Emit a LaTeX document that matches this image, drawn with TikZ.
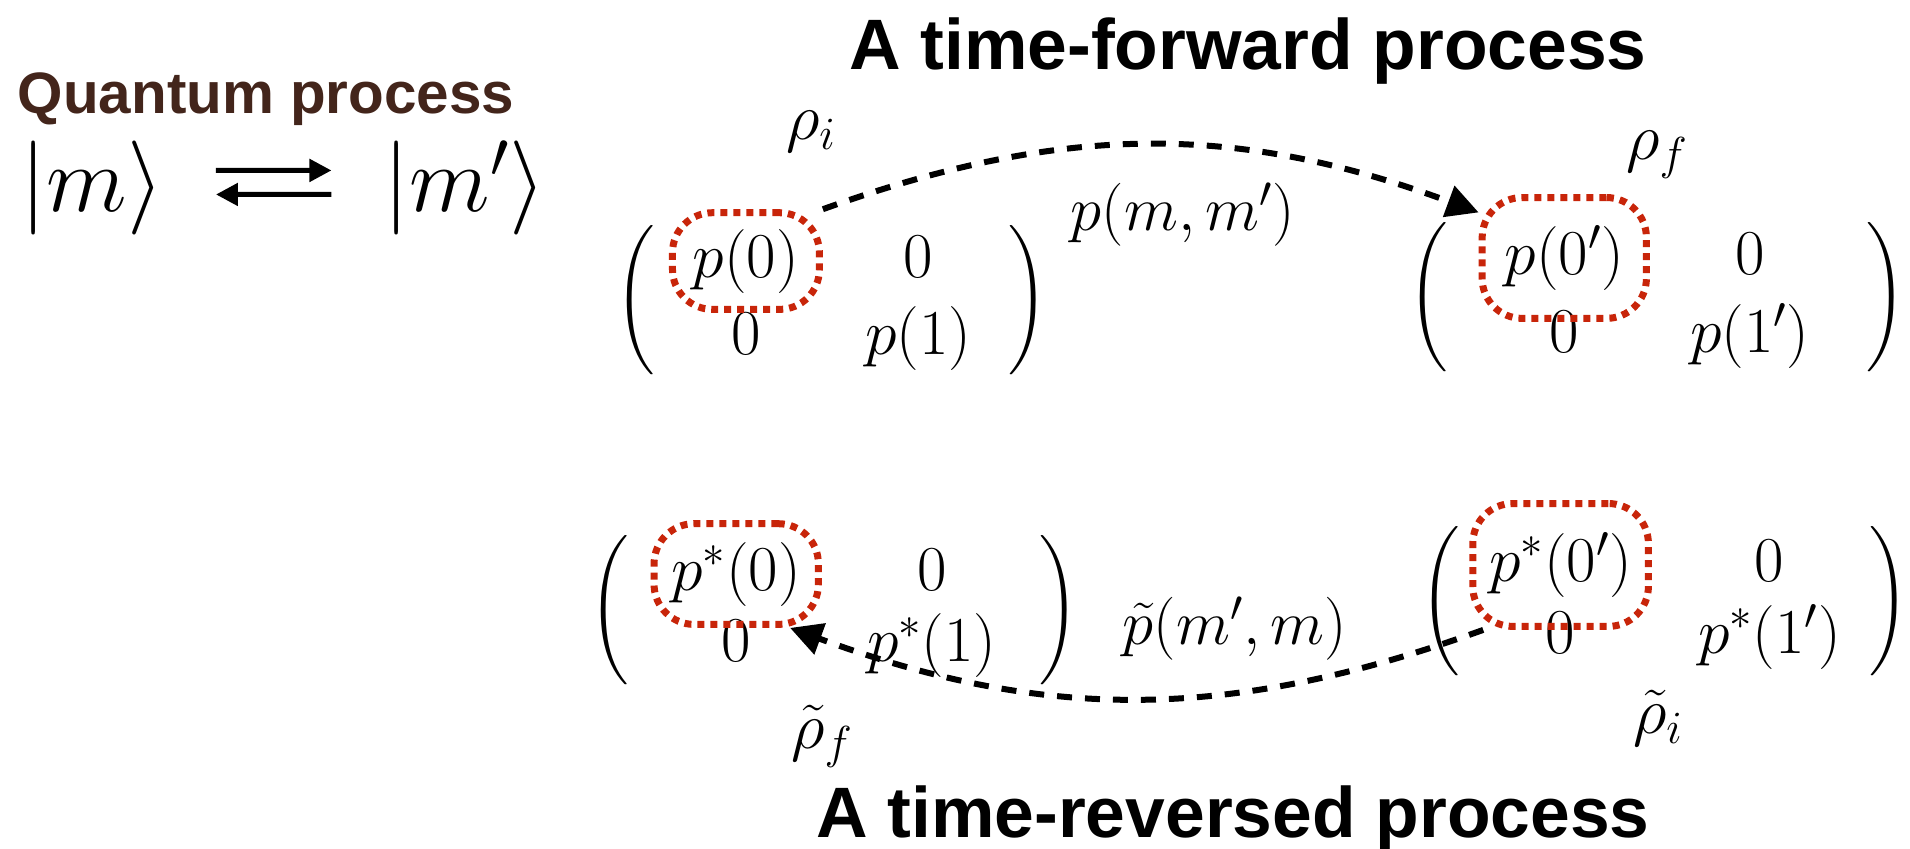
\RequirePackage{fix-cm}
\documentclass[tikz,border=0pt]{standalone}
\usepackage{exscale}
\usepackage{fontspec}
\newfontfamily\headfont{Liberation Sans}
\usetikzlibrary{matrix,fit,arrows.meta}
\definecolor{procbrown}{HTML}{43251B}
\definecolor{boxred}{HTML}{C8250A}

\begin{document}
\begin{tikzpicture}[
x=0.5pt,y=0.5pt,
heading/.style={
font=\headfont\bfseries\fontsize{35.7}{40}\selectfont,
anchor=base,inner sep=0pt
},
sym/.style={font=\fontsize{31.5}{36}\selectfont,inner sep=0pt},
ket/.style={font=\fontsize{47}{54}\selectfont,anchor=base,inner sep=0pt},
dens/.style={
matrix of math nodes,
nodes={inner sep=1pt,anchor=base,font=\fontsize{32}{38}\selectfont},
column sep=31pt,row sep=5pt,
inner xsep=19pt,inner ysep=3pt,
left delimiter=(,right delimiter=)
},
every delimiter/.style={font=\fontsize{44}{50}\selectfont},
dotbox/.style={
draw=boxred,line width=3.5pt,
dash pattern=on 3.5pt off 3pt,
rounded corners=20pt
},
flow/.style={
line width=3pt,dash pattern=on 7.5pt off 6.5pt,
-{Triangle[length=16pt,width=16pt]}
},
swap/.style={line width=2.5pt,-{Triangle[length=11pt,width=11pt]}}
]
\useasboundingbox (0,0) rectangle (1910,-849);

% =======================
% QUANTUM PROCESS
% =======================

\node[heading,text=procbrown,font=\headfont\bfseries\fontsize{29.2}{34}\selectfont]
(qtitle) at (266,-114) {Quantum process};

\node[ket] (ketA) at (92,-212) {$|m\rangle$};
\node[ket] (ketB) at (465,-212) {$|m'\rangle$};

\draw[swap,shorten <=26pt,shorten >=26pt]
([yshift=9pt]ketA.east) -- ([yshift=9pt]ketB.west);
\draw[swap,shorten <=26pt,shorten >=26pt]
([yshift=-3pt]ketB.west) -- ([yshift=-3pt]ketA.east);

% =======================
% TIME-FORWARD
% =======================

\node[heading] (fwdtitle) at (1248,-70) {A time-forward process};

\matrix[dens,inner xsep=16.5pt] (rhoI) at (832,-300) {
p(0) & 0 \\
0 & p(1) \\
};

\matrix[dens,inner xsep=26pt] (rhoF) at (1657,-297) {
p(0') & 0 \\
0 & p(1') \\
};

\node[sym,font=\fontsize{33}{38}\selectfont] (rhoIlab) at (811,-132) {$\rho_i$};
\node[sym,font=\fontsize{33}{38}\selectfont] (rhoFlab) at (1657,-155) {$\rho_f$};
\node[sym] (fwdlab) at (1183,-215) {$p(m,m')$};

\node[dotbox,fit=(rhoI-1-1),inner xsep=9pt,inner ysep=7pt] (boxI) {};
\node[dotbox,fit=(rhoF-1-1),inner xsep=10pt,inner ysep=13pt] (boxF) {};

% =======================
% TIME-REVERSED
% =======================

\matrix[dens,row sep=2pt] (rhoFt) at (834,-610) {
p^*(0) & 0 \\
0 & p^*(1) \\
};

\matrix[dens,row sep=2pt,inner xsep=12pt] (rhoIt) at (1665,-601) {
p^*(0') & 0 \\
0 & p^*(1') \\
};

\node[sym,font=\fontsize{33}{38}\selectfont] (rhoFtlab) at (822,-736) {$\tilde\rho_f$};
\node[sym,font=\fontsize{33}{38}\selectfont] (rhoItlab) at (1658,-718) {$\tilde\rho_i$};
\node[sym] (revlab) at (1235,-629) {$\tilde p(m',m)$};

\node[dotbox,fit=(rhoFt-1-1),inner xsep=7.5pt,inner ysep=8pt] (boxFt) {};
\node[dotbox,fit=(rhoIt-1-1),inner xsep=7pt,inner ysep=13.5pt] (boxIt) {};

\node[heading] (revtitle) at (1233,-837) {A time-reversed process};

% =======================
% ARROWS
% =======================

\draw[flow] (boxI.north east) to[bend left=20] (boxF.152);
\draw[flow] (boxIt.220) to[bend left=20] (boxFt.315);

\end{tikzpicture}
\end{document}
